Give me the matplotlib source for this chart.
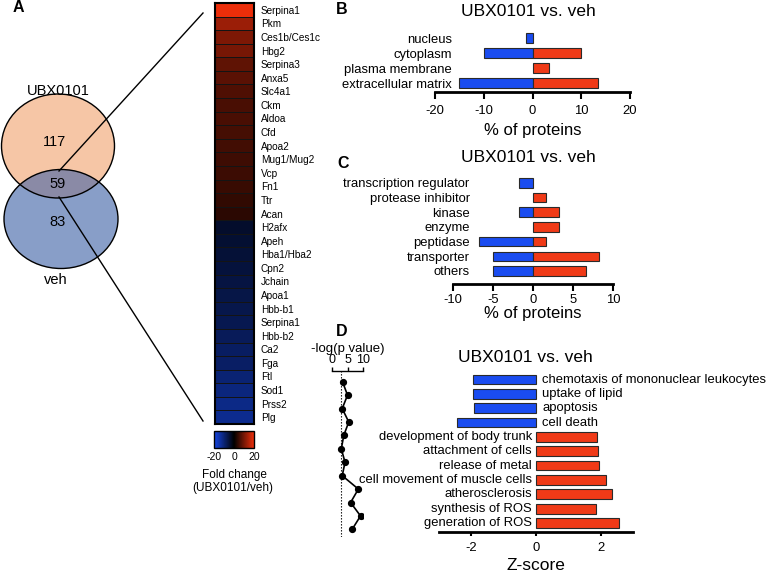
import matplotlib
matplotlib.use('Agg')
import matplotlib.pyplot as plt
import numpy as np
from matplotlib.patches import Ellipse
from matplotlib.colors import LinearSegmentedColormap, Normalize
from matplotlib.cm import ScalarMappable

plt.rcParams['font.family'] = ['Liberation Sans', 'DejaVu Sans']
plt.rcParams['axes.unicode_minus'] = False

# ---------------- data ----------------
venn_sets = ['UBX0101', 'veh']
venn_counts = [117, 59, 83]   # UBX0101 only, shared, veh only

heat_genes = ['Serpina1', 'Pkm', 'Ces1b/Ces1c', 'Hbg2', 'Serpina3', 'Anxa5', 'Slc4a1',
              'Ckm', 'Aldoa', 'Cfd', 'Apoa2', 'Mug1/Mug2', 'Vcp', 'Fn1', 'Ttr', 'Acan',
              'H2afx', 'Apeh', 'Hba1/Hba2', 'Cpn2', 'Jchain', 'Apoa1', 'Hbb-b1',
              'Serpina1', 'Hbb-b2', 'Ca2', 'Fga', 'Ftl', 'Sod1', 'Prss2', 'Plg']
heat_fold = [20.0, 13.0, 10.5, 10.0, 8.0, 7.5, 6.6, 6.2, 6.1, 5.8, 5.5, 5.2, 5.0, 4.7, 4.1, 3.7,
             -3.9, -4.3, -4.8, -5.2, -5.7, -6.1, -6.5, -7.0, -7.8, -8.3, -8.7, -10.0,
             -10.9, -11.7, -12.2]
cbar_ticks = [-20, 0, 20]

B_categories = ['nucleus', 'cytoplasm', 'plasma membrane', 'extracellular matrix']
B_veh = [-1.4, -10.0, 0.0, -15.0]
B_ubx = [0.0, 10.0, 3.3, 13.4]
B_ticks = [-20, -10, 0, 10, 20]

C_categories = ['transcription regulator', 'protease inhibitor', 'kinase', 'enzyme',
                'peptidase', 'transporter', 'others']
C_veh = [-1.7, 0.0, -1.7, 0.0, -6.7, -5.0, -5.0]
C_ubx = [0.0, 1.6, 3.3, 3.3, 1.6, 8.3, 6.6]
C_ticks = [-10, -5, 0, 5, 10]

D_terms = ['chemotaxis of mononuclear leukocytes', 'uptake of lipid', 'apoptosis',
           'cell death', 'development of body trunk', 'attachment of cells',
           'release of metal', 'cell movement of muscle cells', 'atherosclerosis',
           'synthesis of ROS', 'generation of ROS']
D_zscore = [-1.96, -1.96, -1.92, -2.45, 1.90, 1.93, 1.94, 2.15, 2.34, 1.87, 2.57]
D_ticks = [-2, 0, 2]
D_logp = [3.4, 5.0, 3.3, 5.4, 3.8, 3.0, 4.2, 3.3, 8.5, 6.0, 9.2, 6.5]
D_logp_threshold = 3.0
D_logp_ticks = [0, 5, 10]

# ---------------- style ----------------
BLUE = '#1a4cf0'
RED = '#f03a17'
EDGE = '#2a2a2a'
FS = 9.4

W, H = 768, 579
fig = plt.figure(figsize=(W / 100, H / 100), dpi=100)


def add_ax(left, top, w, h, **kw):
    return fig.add_axes([left / W, 1 - (top + h) / H, w / W, h / H], **kw)


def ftext(x, y, s, **kw):
    fig.text(x / W, 1 - y / H, s, **kw)


# ---------------- overlay (venn + connectors) ----------------
ov = add_ax(0, 0, W, H)
ov.set_xlim(0, W)
ov.set_ylim(H, 0)
ov.axis('off')

e1 = Ellipse((58, 146), 113, 104, fc='#f6c6a6', ec='none')
e2 = Ellipse((61, 219), 114, 99, fc='#889ec8', ec='none')
ov.add_patch(e1)
ov.add_patch(e2)
e_ov = Ellipse((58, 146), 113, 104, fc='#8a8aa6', ec='none')
ov.add_patch(e_ov)
e_ov.set_clip_path(e2)
ov.add_patch(Ellipse((58, 146), 113, 104, fc='none', ec='black', lw=1))
ov.add_patch(Ellipse((61, 219), 114, 99, fc='none', ec='black', lw=1))
ov.plot([59, 203], [171, 13], color='black', lw=1)
ov.plot([59, 203], [197, 421], color='black', lw=1)
ov.text(58, 91, venn_sets[0], fontsize=10.5, ha='center', va='center')
ov.text(56, 280, venn_sets[1], fontsize=10.5, ha='center', va='center')
ov.text(55, 142, str(venn_counts[0]), fontsize=10.5, ha='center', va='center')
ov.text(58, 184, str(venn_counts[1]), fontsize=10.5, ha='center', va='center')
ov.text(58, 222, str(venn_counts[2]), fontsize=10.5, ha='center', va='center')

# ---------------- heatmap ----------------
cmap = LinearSegmentedColormap.from_list('fc', [(0, '#1446e6'), (0.5, '#000000'), (1, '#ec2e0a')])
norm = Normalize(-20, 20)
axH = add_ax(215, 3, 39, 421)
data = np.array(heat_fold).reshape(-1, 1)
axH.pcolormesh(data, cmap=cmap, norm=norm, edgecolors='#141414', linewidth=0.6)
axH.set_ylim(len(heat_fold), 0)
axH.set_xlim(0, 1)
axH.set_xticks([])
axH.set_yticks(np.arange(len(heat_genes)) + 0.5)
axH.set_yticklabels(heat_genes)
axH.yaxis.tick_right()
axH.tick_params(axis='y', length=0, pad=5, labelsize=7.2)
for s in axH.spines.values():
    s.set_linewidth(1.5)

cax = add_ax(214, 431, 40, 17)
cb = fig.colorbar(ScalarMappable(norm=norm, cmap=cmap), cax=cax, orientation='horizontal')
cb.set_ticks(cbar_ticks)
cax.tick_params(length=0, labelsize=7.5, pad=3)
cb.outline.set_linewidth(1)
ftext(234, 475, 'Fold change', fontsize=8.5, ha='center', va='center')
ftext(233, 488, '(UBX0101/veh)', fontsize=8.5, ha='center', va='center')


# ---------------- helper for B / C ----------------
def style_bar_axis(ax, ticks, pad=3):
    for k in ('left', 'top', 'right'):
        ax.spines[k].set_visible(False)
    ax.spines['bottom'].set_linewidth(2)
    ax.set_xticks(ticks)
    ax.tick_params(axis='x', length=5, width=1.5, labelsize=FS, pad=pad)


def split_bars(ax, cats, neg, pos, height):
    y = np.arange(len(cats))
    for vals, col in ((neg, BLUE), (pos, RED)):
        v = np.array(vals)
        m = v != 0
        ax.barh(y[m], v[m], height=height, color=col, edgecolor=EDGE, linewidth=0.8)
    ax.set_yticks(y)
    ax.set_yticklabels(cats)
    ax.tick_params(axis='y', length=0, pad=-12, labelsize=FS)


# ---------------- panel B ----------------
axB = add_ax(435, 29, 195, 63)
split_bars(axB, B_categories, B_veh, B_ubx, 0.71)
axB.set_xlim(-20, 20)
axB.set_ylim(len(B_categories) - 0.4, -0.6)
style_bar_axis(axB, B_ticks, pad=4)
axB.set_xlabel('% of proteins', fontsize=12, labelpad=5)
ftext(528, 12, 'UBX0101 vs. veh', fontsize=12.5, ha='center', va='center')

# ---------------- panel C ----------------
axC = add_ax(453, 174, 160, 110)
split_bars(axC, C_categories, C_veh, C_ubx, 0.64)
axC.set_xlim(-10, 10)
axC.set_ylim(len(C_categories) - 0.11, -0.6)
style_bar_axis(axC, C_ticks, pad=2.5)
axC.set_xlabel('% of proteins', fontsize=12, labelpad=0)
ftext(528, 158, 'UBX0101 vs. veh', fontsize=12.5, ha='center', va='center')

# ---------------- panel D ----------------
axD = add_ax(439, 371, 194, 161)
yD = np.arange(len(D_terms))
z = np.array(D_zscore)
axD.barh(yD, z, height=0.68, color=np.where(z < 0, BLUE, RED), edgecolor=EDGE, linewidth=0.8)
for yi, zi, t in zip(yD, z, D_terms):
    if zi < 0:
        axD.annotate(t, (0, yi), xytext=(4.5, 0), textcoords='offset points',
                     ha='left', va='center', fontsize=FS)
    else:
        axD.annotate(t, (0, yi), xytext=(-3, 0), textcoords='offset points',
                     ha='right', va='center', fontsize=FS)
axD.set_xlim(-3, 3)
axD.set_ylim(len(D_terms) - 0.37, -0.6)
axD.set_yticks([])
style_bar_axis(axD, D_ticks, pad=4)
axD.tick_params(axis='x', length=3)
axD.set_xlabel('Z-score', fontsize=12.5, labelpad=3)
ftext(525, 357, 'UBX0101 vs. veh', fontsize=12.5, ha='center', va='center')

axL = add_ax(332, 371, 31, 166)
axL.plot(D_logp, np.arange(len(D_logp)), color='black', lw=1.2, marker='o', ms=4.2)
axL.axvline(D_logp_threshold, color='black', lw=0.8, ls=(0, (1.2, 1.5)))
axL.set_xlim(0, 10)
axL.set_ylim(len(D_logp) - 0.43, -0.8)
for k in ('left', 'bottom', 'right'):
    axL.spines[k].set_visible(False)
axL.spines['top'].set_linewidth(1)
axL.xaxis.tick_top()
axL.xaxis.set_label_position('top')
axL.set_xticks(D_logp_ticks)
axL.set_yticks([])
axL.tick_params(axis='x', length=3, width=1, labelsize=9, pad=0.5)
axL.set_xlabel('-log(p value)', fontsize=9.5, labelpad=1.5)
axL.patch.set_visible(False)

# ---------------- panel letters ----------------
for lbl, x, y in (('A', 18, 8), ('B', 342, 9), ('C', 343, 164), ('D', 342, 332)):
    ftext(x, y, lbl, fontsize=11.5, fontweight='bold', ha='center', va='center')

fig.savefig('out.png', dpi=100)
